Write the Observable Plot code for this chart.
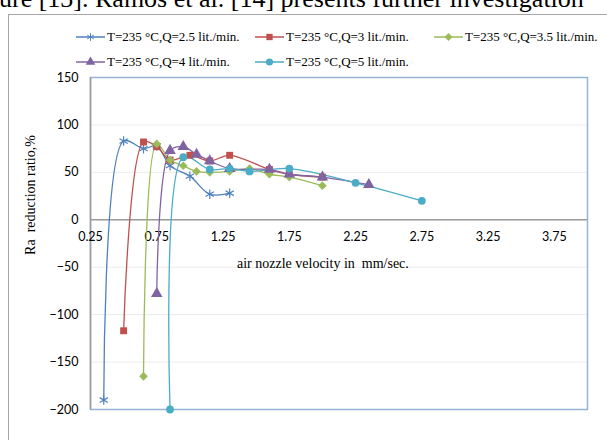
<!DOCTYPE html>
<html><head><meta charset="utf-8">
<script src="https://cdn.jsdelivr.net/npm/d3@7"></script>
<script src="https://cdn.jsdelivr.net/npm/@observablehq/plot@0.6"></script>
<style>
body{margin:0;background:#fff;}
#wrap{position:relative;width:607px;height:440px;overflow:hidden;background:#fff;}
#wrap > svg{position:absolute;left:0;top:0;}
#header{position:absolute;left:-1px;top:-14px;font:26px/26px "Liberation Serif",serif;white-space:nowrap;color:#000;}
#outer{position:absolute;left:8px;top:14px;width:700px;height:500px;border-left:1.5px solid #a6a6a6;border-top:1.5px solid #a6a6a6;}
.leg{position:absolute;font:13px "Liberation Serif",serif;white-space:nowrap;display:flex;align-items:center;transform:translateY(-50%);}
#ylab{position:absolute;left:31px;top:195px;transform:translate(-50%,-50%) rotate(-90deg);font:14px "Liberation Serif",serif;white-space:pre;}
#xlab{position:absolute;left:237px;top:256px;font:14px "Liberation Serif",serif;white-space:pre;}
</style></head><body>
<div id="wrap">
<div id="header">ure [13]. Ramos et al. [14] presents further investigation</div>
<div id="outer"></div>
</div>
<script>
const xTicks = [0.25, 0.75, 1.25, 1.75, 2.25, 2.75, 3.25, 3.75];
const yTicks = [-200, -150, -100, -50, 0, 50, 100, 150];
const seriesNames = ["T=235 °C,Q=2.5 lit./min.", "T=235 °C,Q=3 lit./min.", "T=235 °C,Q=3.5 lit./min.", "T=235 °C,Q=4 lit./min.", "T=235 °C,Q=5 lit./min."];
const seriesColors = ["#4F81BD", "#C0504D", "#9BBB59", "#8064A2", "#4BACC6"];
const seriesSymbols = ["asterisk", "square", "diamond2", "triangle", "circle"];

const q25X = [0.35, 0.5, 0.65, 0.75, 0.85, 1.0, 1.15, 1.3];
const q25Y = [-190, 83, 75, 78, 57, 46, 27, 28];
const q3X = [0.5, 0.65, 0.75, 0.85, 1.0, 1.15, 1.3, 1.6, 1.75, 2.0];
const q3Y = [-117, 82, 77, 63, 68, 62, 68, 53, 48, 45];
const q35X = [0.65, 0.75, 0.85, 0.95, 1.05, 1.15, 1.3, 1.45, 1.6, 1.75, 2.0];
const q35Y = [-165, 80, 63, 57, 51, 50, 51, 54, 48, 45, 36];
const q4X = [0.75, 0.85, 0.95, 1.05, 1.15, 1.3, 1.6, 1.75, 2.0, 2.35];
const q4Y = [-78, 73, 77, 69, 62, 54, 53, 48, 45, 37];
const q5X = [0.85, 0.95, 1.15, 1.3, 1.45, 1.75, 2.25, 2.75];
const q5Y = [-200, 66, 53, 54, 51, 54, 39, 20];

const xs = [q25X, q3X, q35X, q4X, q5X];
const ys = [q25Y, q3Y, q35Y, q4Y, q5Y];
const data = [];
seriesNames.forEach((s, i) => xs[i].forEach((x, j) => data.push({series: s, x, y: ys[i][j]})));

const dotMarks = seriesNames.map((s, i) => {
  const sym = seriesSymbols[i];
  const opts = {x: "x", y: "y", symbol: sym, r: sym === "triangle" ? 4.3 : (sym === "asterisk" ? 4.5 : 3.9)};
  if (sym === "asterisk") { opts.stroke = seriesColors[i]; opts.strokeWidth = 1.2; opts.fill = "none"; }
  else { opts.fill = seriesColors[i]; opts.stroke = "none"; }
  return Plot.dot(data.filter(d => d.series === s), opts);
});

const chart = Plot.plot({
  width: 607, height: 440,
  marginLeft: 90, marginRight: 20, marginTop: 77, marginBottom: 31,
  style: {background: "transparent", overflow: "visible"},
  x: {domain: [0.25, 4.0], axis: null},
  y: {domain: [-200, 150], axis: null},
  color: {domain: seriesNames, range: seriesColors},
  marks: [
    Plot.gridY(yTicks, {stroke: "#ececec", strokeOpacity: 1}),
    Plot.frame({stroke: "#95b3d7", strokeWidth: 1.5}),
    Plot.ruleX([0.25], {stroke: "#9a9a9a", strokeWidth: 1.5}),
    Plot.ruleY([0], {stroke: "#9a9a9a", strokeWidth: 1.5}),
    Plot.axisY(yTicks, {tickSize: 0, tickPadding: 12, fontSize: 12.5, fontFamily: "Lato, sans-serif", label: null, fill: "#000"}),
    Plot.text(xTicks, {x: d => d, y: () => 0, dy: 17, text: d => d.toFixed(2), fontSize: 12.5, fontFamily: "Lato, sans-serif", fill: "#000"}),
    Plot.line(data, {x: "x", y: "y", z: "series", stroke: "series", strokeWidth: 1.3, curve: "catmull-rom"}),
    ...dotMarks
  ]
});
const wrap = document.getElementById("wrap");
wrap.appendChild(chart);

// axis titles
const ylab = document.createElement("div"); ylab.id = "ylab"; ylab.textContent = "Ra  reduction ratio,%"; wrap.appendChild(ylab);
const xlab = document.createElement("div"); xlab.id = "xlab"; xlab.textContent = "air nozzle velocity in  mm/sec."; wrap.appendChild(xlab);

// legend
const legendPos = [[76, 37], [255, 37], [434, 37], [76, 62], [255, 62]];
const symMap = {asterisk: d3.symbolAsterisk, square: d3.symbolSquare, diamond2: d3.symbolDiamond2, triangle: d3.symbolTriangle, circle: d3.symbolCircle};
seriesNames.forEach((s, i) => {
  const item = document.createElement("div");
  item.className = "leg";
  item.style.left = legendPos[i][0] + "px";
  item.style.top = legendPos[i][1] + "px";
  const svg = d3.create("svg").attr("width", 29).attr("height", 14).style("margin-right", "2px");
  svg.append("line").attr("x1", 0).attr("x2", 29).attr("y1", 7).attr("y2", 7).attr("stroke", seriesColors[i]).attr("stroke-width", 1.5);
  const p = svg.append("path").attr("transform", "translate(14.5,7)").attr("d", d3.symbol(symMap[seriesSymbols[i]], 40)());
  if (seriesSymbols[i] === "asterisk") p.attr("fill", "none").attr("stroke", seriesColors[i]).attr("stroke-width", 1);
  else p.attr("fill", seriesColors[i]);
  item.appendChild(svg.node());
  const t = document.createElement("span"); t.textContent = s; item.appendChild(t);
  wrap.appendChild(item);
});
</script>
</body></html>
